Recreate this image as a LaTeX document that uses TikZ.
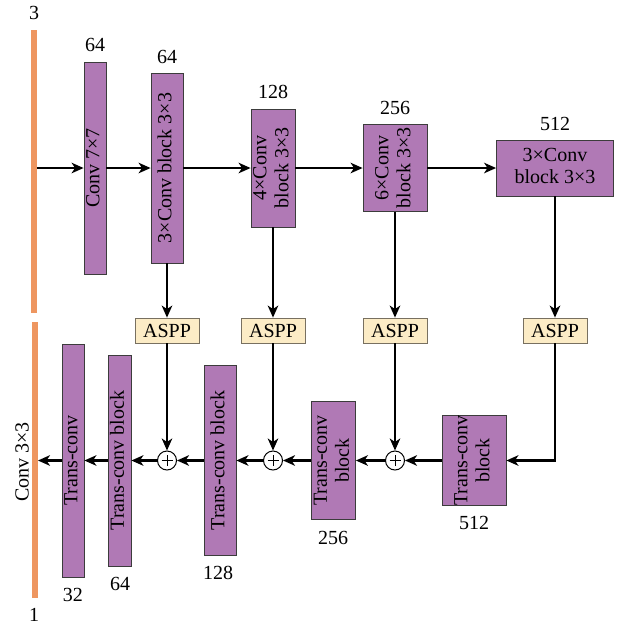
\documentclass[tikz,border=0pt]{standalone}
\usepackage{fontspec}
\setmainfont{Liberation Serif}
\usepackage{graphicx}
\usetikzlibrary{arrows.meta}
\definecolor{blkfill}{RGB}{176,121,181}
\definecolor{blkline}{RGB}{60,60,60}
\definecolor{asppfill}{RGB}{252,236,198}
\definecolor{asppline}{RGB}{120,112,96}
\definecolor{barcol}{RGB}{238,150,96}
\newcommand{\rtx}[1]{\rotatebox{90}{\begin{tabular}{@{}c@{}}#1\end{tabular}}}
\tikzset{
  blk/.style={draw=blkline, fill=blkfill, line width=0.8pt, inner sep=0pt, font=\fontsize{20}{22}\selectfont},
  aspp/.style={draw=asppline, fill=asppfill, line width=0.8pt, inner sep=0pt, minimum width=64pt, minimum height=25pt, font=\fontsize{20}{22}\selectfont},
  bar/.style={fill=barcol, inner sep=0pt, minimum width=5.5pt},
  num/.style={inner sep=0pt, font=\fontsize{20}{22}\selectfont},
  arr/.style={line width=2.3pt, -{Stealth[length=12pt,width=10.5pt,inset=3.5pt]}},
  plus/.style={draw=black, line width=1pt, fill=white, circle, minimum size=19pt, inner sep=0pt,
    path picture={\draw[line width=0.8pt] ([xshift=-5.5pt]path picture bounding box.center) -- ([xshift=5.5pt]path picture bounding box.center);
                  \draw[line width=0.8pt] ([yshift=-5.5pt]path picture bounding box.center) -- ([yshift=5.5pt]path picture bounding box.center);}}
}
\begin{document}
\begin{tikzpicture}[x=1pt,y=-1pt]
\useasboundingbox (0,0) rectangle (619,625);
% orange bars
\node[bar, minimum height=283pt] (o1) at (34,171.5) {};
\node[bar, minimum height=276pt] (o2) at (35,460) {};
\node[num] (l3) at (34,13) {3};
\node[num] (l1) at (34,615) {1};
\node[num, rotate=90] (lc) at (22,462) {Conv 3×3};
% encoder
\node[blk, minimum width=22pt, minimum height=212pt] (c1) at (95,168) {\rtx{Conv 7×7}};
\node[blk, minimum width=32pt, minimum height=190pt] (c2) at (167,168) {\rtx{3×Conv block 3×3}};
\node[blk, minimum width=42pt, minimum height=118pt] (c3) at (273,168) {\rtx{4×Conv\\block 3×3}};
\node[blk, minimum width=64pt, minimum height=87pt] (c4) at (395,168) {\rtx{6×Conv\\block 3×3}};
\node[blk, minimum width=117pt, minimum height=56pt] (c5) at (555,168) {\begin{tabular}{@{}c@{}}3×Conv\\block 3×3\end{tabular}};
\node[num] (n1) at (95,45) {64};
\node[num] (n2) at (167,57) {64};
\node[num] (n3) at (273,92) {128};
\node[num] (n4) at (395,108) {256};
\node[num] (n5) at (555,124) {512};
% ASPP
\node[aspp] (a1) at (167,330.5) {ASPP};
\node[aspp] (a2) at (273,330.5) {ASPP};
\node[aspp] (a3) at (395,330.5) {ASPP};
\node[aspp] (a4) at (555,330.5) {ASPP};
% decoder
\node[blk, minimum width=18pt, minimum height=233pt] (t0) at (73,460.5) {\rtx{Trans-conv}};
\node[blk, minimum width=23pt, minimum height=211pt] (t1) at (119.5,460.5) {\rtx{Trans-conv block}};
\node[blk, minimum width=32pt, minimum height=190pt] (t2) at (220,460.5) {\rtx{Trans-conv block}};
\node[blk, minimum width=41pt, minimum height=118pt] (t3) at (333.5,460.5) {\rtx{Trans-conv\\block}};
\node[blk, minimum width=64pt, minimum height=87pt] (t4) at (474,460.5) {\rtx{Trans-conv\\block}};
\node[num] (m0) at (73,595) {32};
\node[num] (m1) at (120,584) {64};
\node[num] (m2) at (218,573) {128};
\node[num] (m3) at (333,538) {256};
\node[num] (m4) at (474,523) {512};
% plus nodes
\node[plus] (p1) at (167,460.5) {};
\node[plus] (p2) at (273,460.5) {};
\node[plus] (p3) at (395,460.5) {};
% encoder arrows
\draw[arr] (o1.east |- c1.west) -- (c1.west);
\draw[arr] (c1.east) -- (c2.west);
\draw[arr] (c2.east) -- (c3.west);
\draw[arr] (c3.east) -- (c4.west);
\draw[arr] (c4.east) -- (c5.west);
\draw[arr] (c2.south) -- (a1.north);
\draw[arr] (c3.south) -- (a2.north);
\draw[arr] (c4.south) -- (a3.north);
\draw[arr] (c5.south) -- (a4.north);
\draw[arr] (a1.south) -- (p1.north);
\draw[arr] (a2.south) -- (p2.north);
\draw[arr] (a3.south) -- (p3.north);
\draw[arr] (a4.south) |- (t4.east);
% decoder arrows
\draw[arr] (t4.west) -- (p3.east);
\draw[arr] (p3.west) -- (t3.east);
\draw[arr] (t3.west) -- (p2.east);
\draw[arr] (p2.west) -- (t2.east);
\draw[arr] (t2.west) -- (p1.east);
\draw[arr] (p1.west) -- (t1.east);
\draw[arr] (t1.west) -- (t0.east);
\draw[arr] (t0.west) -- (o2.east |- t0.west);
\end{tikzpicture}
\end{document}
